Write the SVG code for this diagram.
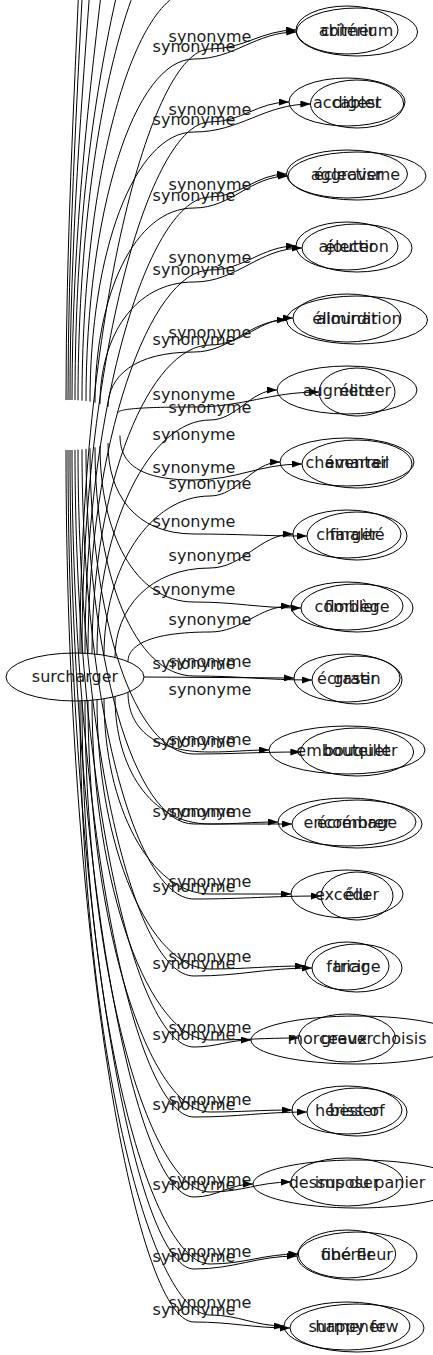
<svg xmlns="http://www.w3.org/2000/svg" width="433" height="1355" viewBox="0 0 433 1355">
<style>
text{font-family:"DejaVu Sans","Liberation Sans",sans-serif;font-size:16px;fill:#1a1a1a;text-anchor:middle}
.node ellipse{fill:none;stroke:#000;stroke-width:1}
.edges path{fill:none;stroke:#000;stroke-width:1;marker-end:url(#arr)}
</style>
<defs>
<marker id="arr" markerWidth="10" markerHeight="7" refX="10" refY="3.5" orient="auto" markerUnits="userSpaceOnUse"><path d="M0,0L10,3.5L0,7z" fill="#000"/></marker>
</defs>
<rect width="433" height="1355" fill="#fff"/>
<g id="connectors" class="edges">
<path d="M80,653.1 C80,320.8 150,49 210,49 C244.4,49 261.6,30 296,30"/>
<path d="M82,653.1 C82,361 150,122 210,122 C241.6,122 257.4,102 289,102"/>
<path d="M85,653.3 C85,402.3 150,197 210,197 C240.6,197 255.9,174 286.5,174"/>
<path d="M88,653.4 C88,442.5 150,270 210,270 C244.4,270 261.6,246 296,246"/>
<path d="M92,653.7 C92,483.9 150,345 210,345 C243.2,345 259.8,318 293,318"/>
<path d="M97,654.3 C97,525.4 150,420 210,420 C236.8,420 250.2,390 277,390"/>
<path d="M104,655.2 C104,567.6 150,496 210,496 C238,496 252,462 280,462"/>
<path d="M115,657.4 C115,608.2 150,568 210,568 C243.2,568 259.8,534 293,534"/>
<path d="M128,661.6 C128,645.3 150,632 210,632 C242.4,632 258.6,606 291,606"/>
<path d="M144,677 L294,678"/>
<path d="M128,692.4 C128,725.2 150,752 210,752 C233.6,752 245.4,750 269,750"/>
<path d="M115,696.6 C115,766.7 150,824 210,824 C237.2,824 250.8,822 278,822"/>
<path d="M104,698.8 C104,806.2 150,894 210,894 C242.4,894 258.6,894 291,894"/>
<path d="M97,699.7 C97,847.8 150,969 210,969 C248,969 267,966 305,966"/>
<path d="M92,700.3 C92,887.1 150,1040 210,1040 C245.4,1040 263.1,1038 298.5,1038"/>
<path d="M88,700.6 C88,926.9 150,1112 210,1112 C242.8,1112 259.2,1110 292,1110"/>
<path d="M85,700.7 C85,970.9 150,1192 210,1192 C242.4,1192 258.6,1182 291,1182"/>
<path d="M82,700.9 C82,1010.6 150,1264 210,1264 C245.3,1264 263,1254 298.3,1254"/>
<path d="M80,700.9 C80,1038.7 150,1315 210,1315 C239.6,1315 254.4,1326 284,1326"/>
<path d="M86,401.1 C86,212.9 134,59 194,59 C235,59 255.4,32 296.4,32"/>
<path d="M90,401.7 C90,253.4 134,132 194,132 C240.6,132 263.8,104 310.4,104"/>
<path d="M95,402.7 C95,295.6 134,208 194,208 C231.6,208 250.4,176 288,176"/>
<path d="M100,404 C100,336.9 134,282 194,282 C237.2,282 258.8,248 302,248"/>
<path d="M108,406.9 C108,376.7 134,352 194,352 C231,352 249.5,320 286.5,320"/>
<path d="M118,412.8 C118,409.6 134,407 194,407 C244,407 269,392 319,392"/>
<path d="M120,435.5 C120,460 134,480 194,480 C237.2,480 258.8,464 302,464"/>
<path d="M108,443.1 C108,493.1 134,534 194,534 C239.2,534 261.8,536 307,536"/>
<path d="M100,446 C100,531.8 134,602 194,602 C236.8,602 258.2,608 301,608"/>
<path d="M95,447.3 C95,573.1 134,676 194,676 C241.2,676 264.8,680 312,680"/>
<path d="M90,448.3 C90,616.4 134,754 194,754 C236.6,754 257.8,752 300.4,752"/>
<path d="M86,448.9 C86,655.2 134,824 194,824 C233.2,824 252.8,824 292,824"/>
<path d="M82,449.4 C82,696.7 134,899 194,899 C244.8,899 270.2,896 321,896"/>
<path d="M78,449.7 C78,739.2 134,976 194,976 C241.2,976 264.8,968 312,968"/>
<path d="M75,449.9 C75,778.3 134,1047 194,1047 C216.8,1047 228.2,1040 251,1040"/>
<path d="M72,450 C72,816.9 134,1117 194,1117 C239.2,1117 261.8,1112 307,1112"/>
<path d="M70,450 C70,860.9 134,1197 194,1197 C217.6,1197 229.4,1184 253,1184"/>
<path d="M68,450 C68,900.5 134,1269 194,1269 C235.2,1269 255.8,1256 297,1256"/>
<path d="M66,449.9 C66,929.6 134,1322 194,1322 C232.4,1322 251.6,1328 290,1328"/>
<path d="M82,400.6 C82,174.8 134,-10 194,-10 C236.4,-10 257.6,-40 300,-40"/>
<path d="M78,400.3 C78,135 134,-82 194,-82 C236.4,-82 257.6,-112 300,-112"/>
<path d="M75,400.1 C75,200 100,60 125,-40 C160,-150 220,-184 300,-184"/>
<path d="M72,400 C72,230 90,90 105,-40 C120,-200 220,-256 300,-256"/>
<path d="M70,400 C70,240 82,100 92,-40 C100,-250 220,-328 300,-328"/>
<path d="M68,400 C68,250 77,100 84,-40 C90,-300 220,-400 300,-400"/>
<path d="M66,400.1 C66,250 74,100 80,-40 C85,-350 220,-472 300,-472"/>
<g id="edge-labels">
<text x="210" y="42">synonyme</text><text x="194" y="52">synonyme</text>
<text x="210" y="115">synonyme</text><text x="194" y="125">synonyme</text>
<text x="210" y="190">synonyme</text><text x="194" y="201">synonyme</text>
<text x="210" y="263">synonyme</text><text x="194" y="275">synonyme</text>
<text x="210" y="338">synonyme</text><text x="194" y="345">synonyme</text>
<text x="194" y="400">synonyme</text><text x="210" y="413">synonyme</text>
<text x="194" y="440">synonyme</text>
<text x="194" y="473">synonyme</text><text x="210" y="489">synonyme</text>
<text x="194" y="527">synonyme</text>
<text x="210" y="561">synonyme</text>
<text x="194" y="595">synonyme</text>
<text x="210" y="625">synonyme</text>
<text x="210" y="667">synonyme</text><text x="194" y="669">synonyme</text>
<text x="210" y="695">synonyme</text>
<text x="210" y="745">synonyme</text><text x="194" y="747">synonyme</text>
<text x="210" y="817">synonyme</text><text x="194" y="817">synonyme</text>
<text x="210" y="887">synonyme</text><text x="194" y="892">synonyme</text>
<text x="210" y="962">synonyme</text><text x="194" y="969">synonyme</text>
<text x="210" y="1033">synonyme</text><text x="194" y="1040">synonyme</text>
<text x="210" y="1105">synonyme</text><text x="194" y="1110">synonyme</text>
<text x="210" y="1185">synonyme</text><text x="194" y="1190">synonyme</text>
<text x="210" y="1257">synonyme</text><text x="194" y="1262">synonyme</text>
<text x="210" y="1308">synonyme</text><text x="194" y="1315">synonyme</text>
</g>
</g>
<g id="surcharger" class="node"><ellipse cx="75" cy="677" rx="69" ry="24"/><text x="75" y="682">surcharger</text></g>
<g id="abimer" class="node"><ellipse cx="347" cy="30" rx="51" ry="24"/><text x="347" y="36">abîmer</text></g>
<g id="accabler" class="node"><ellipse cx="347" cy="102" rx="58" ry="24"/><text x="347" y="108">accabler</text></g>
<g id="aggraver" class="node"><ellipse cx="347" cy="174" rx="60.5" ry="24"/><text x="347" y="180">aggraver</text></g>
<g id="ajouter" class="node"><ellipse cx="347" cy="246" rx="51" ry="24"/><text x="347" y="252">ajouter</text></g>
<g id="alourdir" class="node"><ellipse cx="347" cy="318" rx="54" ry="24"/><text x="347" y="324">alourdir</text></g>
<g id="augmenter" class="node"><ellipse cx="347" cy="390" rx="70" ry="24"/><text x="347" y="396">augmenter</text></g>
<g id="chamarrer" class="node"><ellipse cx="347" cy="462" rx="67" ry="24"/><text x="347" y="468">chamarrer</text></g>
<g id="charger" class="node"><ellipse cx="347" cy="534" rx="54" ry="24"/><text x="347" y="540">charger</text></g>
<g id="combler" class="node"><ellipse cx="347" cy="606" rx="56" ry="24"/><text x="347" y="612">combler</text></g>
<g id="ecraser" class="node"><ellipse cx="347" cy="678" rx="53" ry="24"/><text x="347" y="684">écraser</text></g>
<g id="embouteiller" class="node"><ellipse cx="347" cy="750" rx="78" ry="24"/><text x="347" y="756">embouteiller</text></g>
<g id="encombrer" class="node"><ellipse cx="347" cy="822" rx="69" ry="24"/><text x="347" y="828">encombrer</text></g>
<g id="exceder" class="node"><ellipse cx="347" cy="894" rx="56" ry="24"/><text x="347" y="900">excéder</text></g>
<g id="farcir" class="node"><ellipse cx="347" cy="966" rx="42" ry="24"/><text x="347" y="972">farcir</text></g>
<g id="grever" class="node"><ellipse cx="347" cy="1038" rx="48.5" ry="24"/><text x="347" y="1044">grever</text></g>
<g id="herisser" class="node"><ellipse cx="347" cy="1110" rx="55" ry="24"/><text x="347" y="1116">hérisser</text></g>
<g id="imposer" class="node"><ellipse cx="347" cy="1182" rx="56" ry="24"/><text x="347" y="1188">imposer</text></g>
<g id="oberer" class="node"><ellipse cx="347" cy="1254" rx="48.7" ry="24"/><text x="347" y="1260">obérer</text></g>
<g id="surmener" class="node"><ellipse cx="347" cy="1326" rx="63" ry="24"/><text x="347" y="1332">surmener</text></g>
<g id="criterium" class="node"><ellipse cx="357" cy="32" rx="60.6" ry="24"/><text x="357" y="36">critérium</text></g>
<g id="digest" class="node"><ellipse cx="357" cy="104" rx="46.6" ry="24"/><text x="357" y="108">digest</text></g>
<g id="eclectisme" class="node"><ellipse cx="357" cy="176" rx="69" ry="24"/><text x="357" y="180">éclectisme</text></g>
<g id="election" class="node"><ellipse cx="357" cy="248" rx="55" ry="24"/><text x="357" y="252">élection</text></g>
<g id="elimination" class="node"><ellipse cx="357" cy="320" rx="70.5" ry="24"/><text x="357" y="324">élimination</text></g>
<g id="elite" class="node"><ellipse cx="357" cy="392" rx="38" ry="24"/><text x="357" y="396">élite</text></g>
<g id="eventail" class="node"><ellipse cx="357" cy="464" rx="55" ry="24"/><text x="357" y="468">éventail</text></g>
<g id="finalite" class="node"><ellipse cx="357" cy="536" rx="50" ry="24"/><text x="357" y="540">finalité</text></g>
<g id="florilege" class="node"><ellipse cx="357" cy="608" rx="56" ry="24"/><text x="357" y="612">florilège</text></g>
<g id="gratin" class="node"><ellipse cx="357" cy="680" rx="45" ry="24"/><text x="357" y="684">gratin</text></g>
<g id="bouquet" class="node"><ellipse cx="357" cy="752" rx="56.6" ry="24"/><text x="357" y="756">bouquet</text></g>
<g id="ecremage" class="node"><ellipse cx="357" cy="824" rx="65" ry="24"/><text x="357" y="828">écrémage</text></g>
<g id="elu" class="node"><ellipse cx="357" cy="896" rx="36" ry="24"/><text x="357" y="900">élu</text></g>
<g id="triage" class="node"><ellipse cx="357" cy="968" rx="45" ry="24"/><text x="357" y="972">triage</text></g>
<g id="morceaux-choisis" class="node"><ellipse cx="357" cy="1040" rx="106" ry="24"/><text x="357" y="1044">morceaux choisis</text></g>
<g id="best-of" class="node"><ellipse cx="357" cy="1112" rx="50" ry="24"/><text x="357" y="1116">best of</text></g>
<g id="dessus-du-panier" class="node"><ellipse cx="357" cy="1184" rx="104" ry="24"/><text x="357" y="1188">dessus du panier</text></g>
<g id="fine-fleur" class="node"><ellipse cx="357" cy="1256" rx="60" ry="24"/><text x="357" y="1260">fine fleur</text></g>
<g id="happy-few" class="node"><ellipse cx="357" cy="1328" rx="67" ry="24"/><text x="357" y="1332">happy few</text></g>
</svg>
